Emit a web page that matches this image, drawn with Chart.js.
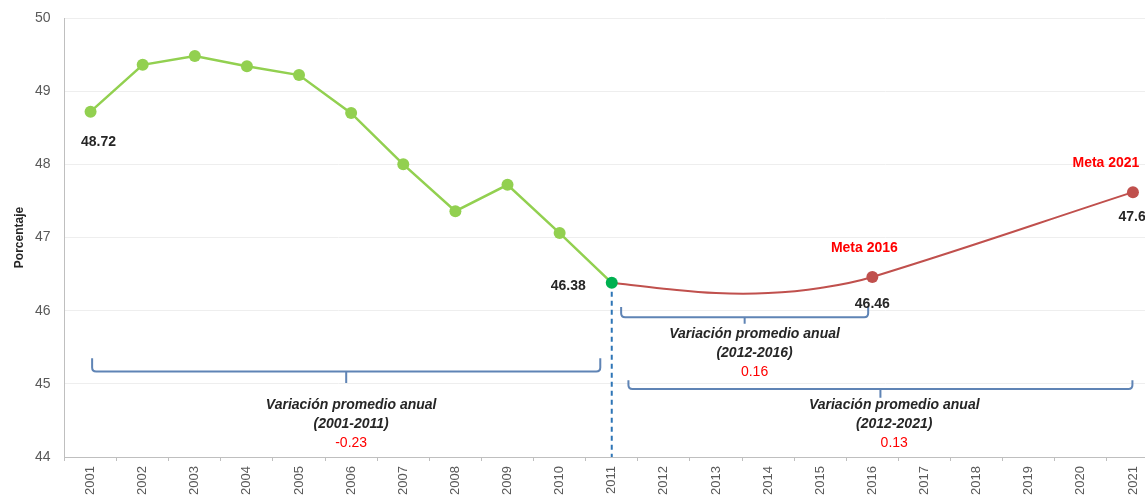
<!DOCTYPE html>
<html>
<head>
<meta charset="utf-8">
<script src="https://cdn.jsdelivr.net/npm/chart.js@4"></script>
<style>
  html, body { margin: 0; padding: 0; background: #fff; overflow: hidden; }
  #wrap { width: 1145px; height: 496px; overflow: hidden; }
</style>
</head>
<body>
<div id="wrap"><canvas id="chart" width="1165" height="496"></canvas></div>
<script>
// data
const years = ['2001', '2002', '2003', '2004', '2005', '2006', '2007', '2008', '2009', '2010', '2011',
  '2012', '2013', '2014', '2015', '2016', '2017', '2018', '2019', '2020', '2021'];
const historico = [48.72, 49.36, 49.48, 49.34, 49.22, 48.70, 48.00, 47.36, 47.72, 47.06, 46.38,
  null, null, null, null, null, null, null, null, null, null];
// red curve: 2011 start, traced curve to 2016 goal, then 2021 goal
const metas = [null, null, null, null, null, null, null, null, null, null, 46.38,
  46.30, 46.24, 46.24, 46.31, 46.46, null, null, null, null, 47.62];
const metaYears = ['2016', '2021'];
const yTicks = [44, 45, 46, 47, 48, 49, 50];
const variaciones = ['-0.23', '0.16', '0.13'];
const periodos = ['(2001-2011)', '(2012-2016)', '(2012-2021)'];

const FONT = "'Liberation Sans', Arial, sans-serif";
const BLUE = '#5f84b5';

// brace annotations, x in category index units, y in axis values
const braces = [
  { from: 0.03, to: 9.78, y: 45.17, end: 45.35, tip: 45.01 },
  { from: 10.18, to: 14.92, y: 45.91, end: 46.05, tip: 45.82 },
  { from: 10.32, to: 19.99, y: 44.93, end: 45.05, tip: 44.81 }
];
const braceText = [
  { x: 5.0, y: [44.71, 44.45, 44.19] },
  { x: 12.74, y: [45.68, 45.42, 45.16] },
  { x: 15.42, y: [44.71, 44.45, 44.19] }
];

const annotations = {
  id: 'annotations',
  beforeDatasetsDraw(chart) {
    const { ctx, scales: { x, y }, chartArea } = chart;
    ctx.save();
    // dashed line under 2011
    const i11 = years.indexOf('2011');
    const px = x.getPixelForValue(i11);
    ctx.strokeStyle = '#2e75b6';
    ctx.lineWidth = 2;
    ctx.setLineDash([5, 4]);
    ctx.beginPath();
    ctx.moveTo(px, y.getPixelForValue(historico[i11]));
    ctx.lineTo(px, chartArea.bottom);
    ctx.stroke();
    ctx.setLineDash([]);

    // braces
    ctx.strokeStyle = BLUE;
    ctx.lineWidth = 2;
    braces.forEach(b => {
      const x1 = x.getPixelForValue(b.from);
      const x2 = x.getPixelForValue(b.to);
      const xc = (x1 + x2) / 2;
      const yh = y.getPixelForValue(b.y);
      const ye = y.getPixelForValue(b.end);
      const yt = y.getPixelForValue(b.tip);
      const r = 4;
      ctx.beginPath();
      ctx.moveTo(x1, ye);
      ctx.lineTo(x1, yh - r);
      ctx.quadraticCurveTo(x1, yh, x1 + r, yh);
      ctx.lineTo(x2 - r, yh);
      ctx.quadraticCurveTo(x2, yh, x2, yh - r);
      ctx.lineTo(x2, ye);
      ctx.moveTo(xc, yh);
      ctx.lineTo(xc, yt);
      ctx.stroke();
    });

    // brace texts
    ctx.textAlign = 'center';
    ctx.textBaseline = 'middle';
    braceText.forEach((t, k) => {
      const tx = x.getPixelForValue(t.x);
      ctx.fillStyle = '#262626';
      ctx.font = 'italic bold 14px ' + FONT;
      ctx.fillText('Variación promedio anual', tx, y.getPixelForValue(t.y[0]));
      ctx.fillText(periodos[k], tx, y.getPixelForValue(t.y[1]));
      ctx.fillStyle = '#ff0000';
      ctx.font = '14px ' + FONT;
      ctx.fillText(variaciones[k], tx, y.getPixelForValue(t.y[2]));
    });
    ctx.restore();
  },
  afterDatasetsDraw(chart) {
    const { ctx } = chart;
    const hist = chart.getDatasetMeta(0).data;
    const meta = chart.getDatasetMeta(1).data;
    const label = (el, text, dx, dy, color, align) => {
      ctx.fillStyle = color;
      ctx.textAlign = align || 'center';
      ctx.fillText(text, el.x + dx, el.y + dy);
    };
    ctx.save();
    ctx.font = 'bold 14px ' + FONT;
    ctx.textBaseline = 'middle';
    const i01 = 0, i11 = years.indexOf('2011');
    const i16 = years.indexOf(metaYears[0]), i21 = years.indexOf(metaYears[1]);
    label(hist[i01], historico[i01].toFixed(2), 8, 30, '#262626');
    label(hist[i11], historico[i11].toFixed(2), -26, 3, '#262626', 'right');
    label(meta[i16], metas[i16].toFixed(2), 0, 27, '#262626');
    label(meta[i21], metas[i21].toFixed(2), 3, 25, '#262626');
    label(meta[i16], 'Meta ' + metaYears[0], -8, -29, '#ff0000');
    label(meta[i21], 'Meta ' + metaYears[1], -27, -29, '#ff0000');
    ctx.restore();
  }
};

const ctx = document.getElementById('chart').getContext('2d');
new Chart(ctx, {
  type: 'line',
  data: {
    labels: years,
    datasets: [
      {
        label: 'Histórico',
        data: historico,
        borderColor: '#92d050',
        borderWidth: 2.5,
        pointRadius: 6,
        pointBorderWidth: 0,
        pointBackgroundColor: years.map(yr => yr === '2011' ? '#00b050' : '#92d050'),
        tension: 0
      },
      {
        label: 'Meta',
        data: metas,
        borderColor: '#c0504d',
        borderWidth: 2,
        pointRadius: years.map(yr => metaYears.includes(yr) ? 6 : 0),
        pointBorderWidth: 0,
        pointBackgroundColor: '#c0504d',
        spanGaps: true,
        tension: 0.4
      }
    ]
  },
  options: {
    responsive: false,
    animation: false,
    layout: { padding: { top: 18, right: 2, left: 0, bottom: 0 } },
    plugins: { legend: { display: false }, tooltip: { enabled: false } },
    scales: {
      x: {
        type: 'category',
        offset: true,
        grid: { offset: true, drawOnChartArea: false, drawTicks: true, tickLength: 4, color: '#bfbfbf' },
        border: { color: '#bfbfbf' },
        ticks: {
          autoSkip: false, minRotation: 90, maxRotation: 90, padding: 5,
          color: '#595959', font: { family: FONT, size: 13 }
        },
        afterFit: (scale) => { scale.height = 39; }
      },
      y: {
        min: yTicks[0],
        max: yTicks[yTicks.length - 1],
        afterBuildTicks: (scale) => { scale.ticks = yTicks.map(v => ({ value: v })); },
        // invisible tick marks keep the labels away from the axis
        grid: { color: '#eeeeee', drawTicks: true, tickLength: 10, tickColor: 'rgba(0,0,0,0)' },
        border: { color: '#bfbfbf' },
        ticks: { padding: 4, color: '#595959', font: { family: FONT, size: 14 } },
        title: {
          display: true, text: 'Porcentaje', color: '#262626',
          font: { family: FONT, size: 12, weight: 'bold' }, padding: { top: 12, bottom: 0 }
        },
        afterFit: (scale) => { scale.width = 64.5; }
      }
    }
  },
  plugins: [annotations]
});
</script>
</body>
</html>
